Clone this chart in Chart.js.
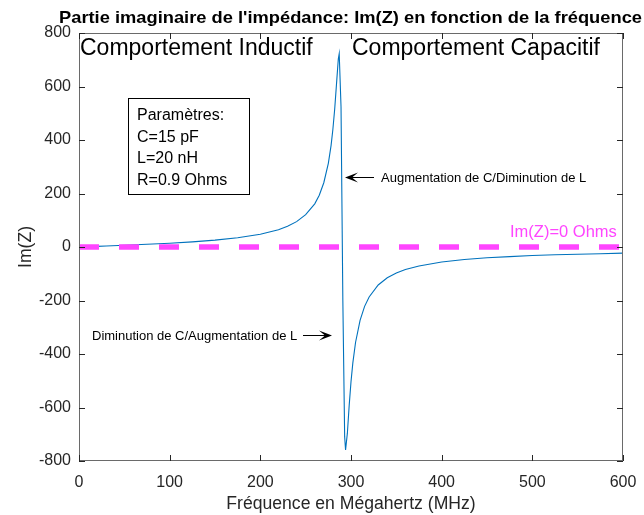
<!DOCTYPE html>
<html>
<head>
<meta charset="utf-8">
<script src="https://cdn.jsdelivr.net/npm/chart.js@4.4.1/dist/chart.umd.min.js"></script>
<style>
html,body{margin:0;padding:0;background:#fff;}
canvas{display:block;}
</style>
</head>
<body>
<canvas id="c" width="644" height="515"></canvas>
<script>
// ---- Data ----
const freqMHz = [1, 10, 20, 30, 50, 75, 100, 125, 150, 175, 200, 220, 230, 240, 250, 260, 265, 270, 275, 278, 280, 282, 284, 286, 287, 289, 291, 293, 294, 296, 298, 300, 302, 305, 310, 315, 320, 330, 340, 350, 360, 375, 400, 425, 450, 475, 500, 525, 550, 575, 600];
const imZ = [0.1, 1.3, 2.5, 3.8, 6.5, 10.1, 14.3, 19.3, 25.7, 34.5, 47.7, 64.8, 77.4, 94.9, 120.9, 161.3, 193.6, 240.2, 313, 379, 439, 515, 609, 703, 723, 524, -199, -709, -759, -696, -592, -504, -434, -357, -274, -222, -187, -142, -115, -97, -84, -71, -56, -47, -40, -36, -32, -29, -27, -25, -23];
const zeroLineX = [0, 600];
const zeroLineY = [0, 0];
const xTicks = [0, 100, 200, 300, 400, 500, 600];
const yTicks = [-800, -600, -400, -200, 0, 200, 400, 600, 800];

const titleText = "Partie imaginaire de l'impédance: Im(Z) en fonction de la fréquence";
const xTitle = "Fréquence en Mégahertz (MHz)";
const yTitle = "Im(Z)";
const leftLabel = "Comportement Inductif";
const rightLabel = "Comportement Capacitif";
const paramLines = ["Paramètres:", "C=15 pF", "L=20 nH", "R=0.9 Ohms"];
const annotTop = "Augmentation de C/Diminution de L";
const annotBottom = "Diminution de C/Augmentation de L";
const zeroLabel = "Im(Z)=0 Ohms";

const FONT = "'Liberation Sans', Arial, Helvetica, sans-serif";
const MAGENTA = '#ff45ff';

function arrow(ctx, x1, y1, x2, y2) {
  const ang = Math.atan2(y2 - y1, x2 - x1);
  const L = 11, W = 5, back = 7;
  ctx.save();
  ctx.strokeStyle = '#000'; ctx.fillStyle = '#000'; ctx.lineWidth = 1;
  ctx.beginPath(); ctx.moveTo(x1, y1);
  ctx.lineTo(x2 - Math.cos(ang) * back, y2 - Math.sin(ang) * back); ctx.stroke();
  ctx.translate(x2, y2); ctx.rotate(ang);
  ctx.beginPath();
  ctx.moveTo(0, 0); ctx.lineTo(-L - 2, -W); ctx.lineTo(-back, 0); ctx.lineTo(-L - 2, W);
  ctx.closePath(); ctx.fill();
  ctx.restore();
}

const decor = {
  id: 'decor',
  afterDatasetsDraw(chart) {
    const ctx = chart.ctx, a = chart.chartArea;
    const xs = chart.scales.x, ys = chart.scales.y;
    ctx.save();
    // frame
    ctx.strokeStyle = '#6a6a6a'; ctx.lineWidth = 1;
    ctx.strokeRect(a.left + 0.5, a.top + 0.5, a.right - a.left - 1, a.bottom - a.top - 1);
    // inner ticks
    ctx.strokeStyle = '#262626';
    ctx.beginPath();
    xTicks.forEach(v => {
      const px = Math.round(xs.getPixelForValue(v)) + 0.5;
      ctx.moveTo(px, a.bottom); ctx.lineTo(px, a.bottom - 6);
      ctx.moveTo(px, a.top); ctx.lineTo(px, a.top + 6);
    });
    yTicks.forEach(v => {
      const py = Math.round(ys.getPixelForValue(v)) + 0.5;
      ctx.moveTo(a.left, py); ctx.lineTo(a.left + 6, py);
      ctx.moveTo(a.right, py); ctx.lineTo(a.right - 6, py);
    });
    ctx.stroke();

    // title (stretched horizontally to the reference width)
    ctx.fillStyle = '#000';
    ctx.font = 'bold 16.5px ' + FONT;
    ctx.textAlign = 'center'; ctx.textBaseline = 'alphabetic';
    const tw = ctx.measureText(titleText).width;
    ctx.save();
    ctx.translate(350.5, 23);
    ctx.scale(583 / tw, 1);
    ctx.fillText(titleText, 0, 0);
    ctx.restore();

    // axis titles
    ctx.fillStyle = '#262626';
    ctx.font = '17.6px ' + FONT;
    ctx.fillText(xTitle, (a.left + a.right) / 2, 509);
    ctx.save();
    ctx.translate(31, (a.top + a.bottom) / 2);
    ctx.rotate(-Math.PI / 2);
    ctx.fillText(yTitle, 0, 0);
    ctx.restore();

    // region labels
    ctx.fillStyle = '#000';
    ctx.font = '23px ' + FONT;
    ctx.textAlign = 'left';
    ctx.fillText(leftLabel, 80, 55);
    ctx.fillText(rightLabel, 352, 55);

    // params box
    ctx.fillStyle = '#fff';
    ctx.fillRect(128.5, 98.5, 121, 96);
    ctx.strokeStyle = '#000'; ctx.lineWidth = 1;
    ctx.strokeRect(128.5, 98.5, 121, 96);
    ctx.fillStyle = '#000';
    ctx.font = '16px ' + FONT;
    const baselines = [120, 142, 163, 185];
    paramLines.forEach((t, i) => ctx.fillText(t, 137, baselines[i]));

    // annotations
    ctx.font = '13px ' + FONT;
    ctx.fillText(annotTop, 381, 182);
    arrow(ctx, 374, 177.5, 345, 177.5);
    ctx.fillText(annotBottom, 92, 340);
    arrow(ctx, 303, 335.5, 332, 335.5);

    // zero label
    ctx.fillStyle = MAGENTA;
    ctx.font = '16.5px ' + FONT;
    ctx.fillText(zeroLabel, 510, 237);
    ctx.restore();
  }
};

new Chart(document.getElementById('c'), {
  type: 'line',
  data: {
    datasets: [
      {
        data: zeroLineX.map((x, i) => ({x: x, y: zeroLineY[i]})),
        borderColor: MAGENTA, borderWidth: 5.5, borderDash: [20, 20],
        pointRadius: 0, order: 0, borderCapStyle: 'butt'
      },
      {
        data: freqMHz.map((x, i) => ({x: x, y: imZ[i]})),
        borderColor: '#0072BD', borderWidth: 1.1, pointRadius: 0,
        tension: 0, order: 1
      }
    ]
  },
  options: {
    responsive: false, animation: false, devicePixelRatio: 1,
    layout: {padding: {top: 33, right: 21, left: 0, bottom: 0}},
    plugins: {legend: {display: false}, tooltip: {enabled: false}, title: {display: false}},
    scales: {
      x: {
        type: 'linear', min: 0, max: 600,
        afterFit: s => { s.height = 54; s.paddingLeft = 0; s.paddingRight = 0; },
        afterBuildTicks: s => { s.ticks = xTicks.map(v => ({value: v})); },
        grid: {display: false, drawTicks: false},
        border: {display: false},
        ticks: {color: '#262626', font: {family: FONT, size: 16}, padding: 12, maxRotation: 0}
      },
      y: {
        type: 'linear', min: -800, max: 800,
        afterFit: s => { s.width = 79; s.paddingTop = 0; s.paddingBottom = 0; },
        afterBuildTicks: s => { s.ticks = yTicks.map(v => ({value: v})); },
        grid: {display: false, drawTicks: false},
        border: {display: false},
        ticks: {color: '#262626', font: {family: FONT, size: 16}, padding: 8}
      }
    }
  },
  plugins: [decor]
});
</script>
</body>
</html>
